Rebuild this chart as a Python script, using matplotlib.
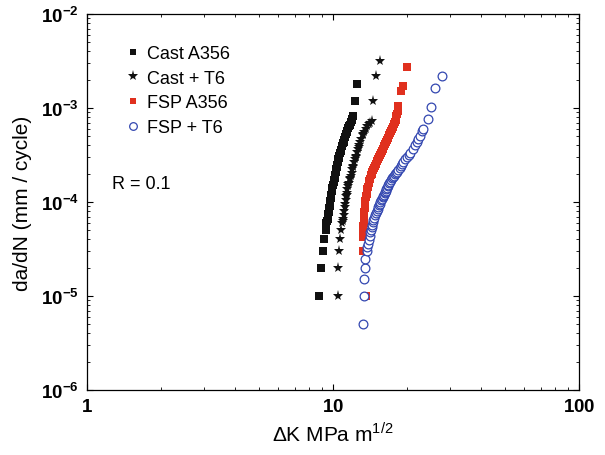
import math
import matplotlib.pyplot as plt
from matplotlib.ticker import FuncFormatter, LogLocator, NullFormatter

plt.rcParams['font.family'] = ['Liberation Sans', 'DejaVu Sans']
plt.rcParams['mathtext.fontset'] = 'custom'
plt.rcParams['mathtext.rm'] = 'Liberation Sans'
plt.rcParams['mathtext.bf'] = 'Liberation Sans:bold'

# Cast A356 (black squares)
cast_dk = [8.77, 8.95, 9.1, 9.2, 9.37,
           9.4, 9.45, 9.5, 9.55, 9.58, 9.6, 9.65, 9.7, 9.72, 9.75, 9.8, 9.85,
           9.9, 9.95, 10.0, 10.05, 10.1, 10.15, 10.2, 10.25, 10.3, 10.35, 10.4,
           10.45, 10.5, 10.55, 10.6, 10.7, 10.75, 10.8, 10.9, 11.0, 11.05, 11.1,
           11.2, 11.3, 11.4, 11.45, 11.55, 11.6, 11.7, 11.8, 11.9, 11.95, 12.05,
           12.3, 12.5]
cast_dadn = [1e-5, 2e-5, 3e-5, 4e-5, 5e-5,
             6.0e-5, 6.3e-5, 6.6e-5, 7.2e-5, 7.5e-5, 7.9e-5, 8.6e-5, 9.0e-5,
             9.4e-5, 1.02e-4, 1.1e-4, 1.2e-4, 1.3e-4, 1.4e-4, 1.52e-4, 1.65e-4,
             1.72e-4, 1.78e-4, 1.92e-4, 2.08e-4, 2.25e-4, 2.35e-4, 2.45e-4,
             2.65e-4, 2.85e-4, 2.95e-4, 3.1e-4, 3.35e-4, 3.5e-4, 3.6e-4, 3.9e-4,
             4.2e-4, 4.4e-4, 4.55e-4, 4.9e-4, 5.3e-4, 5.5e-4, 5.7e-4, 6.15e-4,
             6.4e-4, 6.6e-4, 7.1e-4, 7.4e-4, 7.6e-4, 8.2e-4, 1.2e-3, 1.8e-3]

# Cast + T6 (black stars)
castt6_dk = [10.5, 10.5, 10.6, 10.7, 10.8,
             10.9, 10.95, 11.0, 11.05, 11.1, 11.15, 11.2, 11.25, 11.3, 11.35,
             11.4, 11.45, 11.5, 11.55, 11.6, 11.7, 11.75, 11.8, 11.9, 12.0,
             12.05, 12.1, 12.2, 12.3, 12.35, 12.4, 12.5, 12.6, 12.7, 12.75,
             12.9, 13.05, 13.2, 13.3, 13.4, 13.6, 13.8, 14.0, 14.1, 14.4,
             14.6, 14.9, 15.5]
castt6_dadn = [1e-5, 2e-5, 3e-5, 4e-5, 5e-5,
               6.0e-5, 6.3e-5, 6.6e-5, 7.3e-5, 8.0e-5, 8.8e-5, 9.6e-5, 1.05e-4,
               1.15e-4, 1.2e-4, 1.25e-4, 1.36e-4, 1.48e-4, 1.54e-4, 1.6e-4,
               1.74e-4, 1.82e-4, 1.9e-4, 2.06e-4, 2.24e-4, 2.34e-4, 2.44e-4,
               2.65e-4, 2.88e-4, 3.0e-4, 3.12e-4, 3.4e-4, 3.7e-4, 3.85e-4,
               4.0e-4, 4.35e-4, 4.7e-4, 5.1e-4, 5.3e-4, 5.55e-4, 6.0e-4, 6.5e-4,
               6.7e-4, 6.9e-4, 7.2e-4, 1.2e-3, 2.2e-3, 3.2e-3]

# FSP A356 (red squares)
fsp_dk = [13.6, 13.3, 13.2, 13.25, 13.3, 13.3, 13.35, 13.35, 13.4, 13.4,
          13.45, 13.5, 13.55, 13.6, 13.65, 13.7, 13.75, 13.8, 13.85, 13.95,
          14.0, 14.1, 14.25, 14.35, 14.45, 14.55, 14.65, 14.8, 14.9, 15.05,
          15.2, 15.35, 15.5, 15.65, 15.8, 15.95, 16.1, 16.25, 16.4, 16.55,
          16.7, 16.85, 17.0, 17.2, 17.4, 17.55, 17.7, 17.85, 18.0, 18.1, 18.2,
          18.3, 18.4, 18.9, 19.2, 20.0]
fsp_dadn = [1e-5, 3e-5, 4.2e-5, 4.6e-5, 5.0e-5, 5.5e-5, 6.0e-5, 6.6e-5,
            7.2e-5, 7.9e-5, 8.6e-5, 9.4e-5, 1.03e-4, 1.12e-4, 1.17e-4, 1.22e-4,
            1.33e-4, 1.39e-4, 1.45e-4, 1.6e-4, 1.68e-4, 1.76e-4, 1.93e-4,
            2.0e-4, 2.1e-4, 2.2e-4, 2.3e-4, 2.42e-4, 2.55e-4, 2.7e-4, 2.86e-4,
            3.0e-4, 3.15e-4, 3.32e-4, 3.5e-4, 3.7e-4, 3.9e-4, 4.1e-4, 4.35e-4,
            4.6e-4, 4.85e-4, 5.1e-4, 5.4e-4, 5.7e-4, 6.0e-4, 6.35e-4, 6.7e-4,
            7.1e-4, 7.5e-4, 8.2e-4, 8.7e-4, 9.2e-4, 1.05e-3, 1.5e-3, 1.7e-3,
            2.7e-3]

# FSP + T6 (blue open circles)
fspt6_dk = [13.2, 13.4, 13.4, 13.5, 13.5, 13.7, 13.8, 13.9, 14.0, 14.1, 14.2,
            14.3, 14.35, 14.45, 14.5, 14.6, 14.7, 14.8, 14.9, 15.05, 15.2,
            15.3, 15.4, 15.5, 15.6, 15.7, 15.8, 15.9, 16.0, 16.1, 16.2, 16.3,
            16.4, 16.5, 16.6, 16.7, 16.8, 16.95, 17.1, 17.25, 17.4, 17.55, 17.7,
            17.9, 18.05, 18.2, 18.4, 18.65, 18.9, 19.1, 19.3, 19.7, 20.0, 20.3,
            20.6, 21.1, 21.5, 21.9, 22.2, 22.5, 23.0, 23.2, 24.3, 25.0, 26.0,
            27.7]
fspt6_dadn = [5e-6, 1e-5, 1.5e-5, 2e-5, 2.5e-5, 3e-5, 3.3e-5, 3.6e-5, 3.95e-5,
              4.3e-5, 4.8e-5, 5.1e-5, 5.4e-5, 5.75e-5, 6.1e-5, 6.45e-5, 6.8e-5,
              7.2e-5, 7.6e-5, 8.0e-5, 8.4e-5, 8.8e-5, 9.2e-5, 9.6e-5, 1.0e-4,
              1.04e-4, 1.08e-4, 1.12e-4, 1.16e-4, 1.2e-4, 1.24e-4, 1.28e-4,
              1.32e-4, 1.37e-4, 1.42e-4, 1.47e-4, 1.52e-4, 1.58e-4, 1.65e-4,
              1.71e-4, 1.78e-4, 1.84e-4, 1.9e-4, 1.98e-4, 2.04e-4, 2.1e-4,
              2.2e-4, 2.3e-4, 2.4e-4, 2.55e-4, 2.66e-4, 2.85e-4, 3.0e-4, 3.15e-4,
              3.3e-4, 3.7e-4, 4.0e-4, 4.35e-4, 4.7e-4, 5.0e-4, 5.7e-4, 6.0e-4,
              7.6e-4, 1.02e-3, 1.63e-3, 2.19e-3]

fig = plt.figure(figsize=(6.05, 4.56), dpi=100)
ax = fig.add_axes([0.1438, 0.1425, 0.8132, 0.8246])

ax.plot(cast_dk, cast_dadn, 's', color='#111111', ms=5.8, mew=0, label='Cast A356')
ax.plot(castt6_dk, castt6_dadn, '*', color='#111111', ms=8, mew=0, label='Cast + T6')
ax.plot(fsp_dk, fsp_dadn, 's', color='#e0301e', ms=5.8, mew=0, label='FSP A356')
ax.plot(fspt6_dk, fspt6_dadn, 'o', mfc='white', mec='#3347b0', ms=6.3, mew=0.9,
        label='FSP + T6')

ax.set_xscale('log')
ax.set_yscale('log')
ax.set_xlim(1, 100)
ax.set_ylim(1e-6, 1e-2)

ax.xaxis.set_major_formatter(FuncFormatter(lambda v, p: r'$\mathbf{%d}$' % round(v)))
ax.yaxis.set_major_formatter(FuncFormatter(
    lambda v, p: r'$\mathbf{10^{%d}}$' % round(math.log10(v))))
ax.xaxis.set_minor_locator(LogLocator(base=10, subs=range(2, 10)))
ax.yaxis.set_minor_locator(LogLocator(base=10, subs=range(2, 10)))
ax.xaxis.set_minor_formatter(NullFormatter())
ax.yaxis.set_minor_formatter(NullFormatter())

ax.tick_params(which='both', direction='in', top=True, right=True, labelsize=13.5)
ax.tick_params(which='major', length=4, width=0.8, pad=6)
ax.tick_params(which='minor', length=2.2, width=0.6)
for s in ax.spines.values():
    s.set_linewidth(0.9)

ax.set_xlabel(r'$\Delta$K MPa m$^{1/2}$', fontsize=15, labelpad=4)
ax.set_ylabel('da/dN (mm / cycle)', fontsize=15, labelpad=6)

leg = ax.legend(loc='upper left', bbox_to_anchor=(0.079, 0.917), frameon=False,
                fontsize=13, handlelength=0.8, handletextpad=0.37,
                labelspacing=0.42, borderaxespad=0, borderpad=0)
leg.legend_handles[0].set_markersize(5)
leg.legend_handles[2].set_markersize(5)
leg.legend_handles[3].set_markersize(5.5)
ax.text(0.05, 0.55, 'R = 0.1', transform=ax.transAxes, fontsize=13, va='center')

fig.savefig('out.png', dpi=100)
